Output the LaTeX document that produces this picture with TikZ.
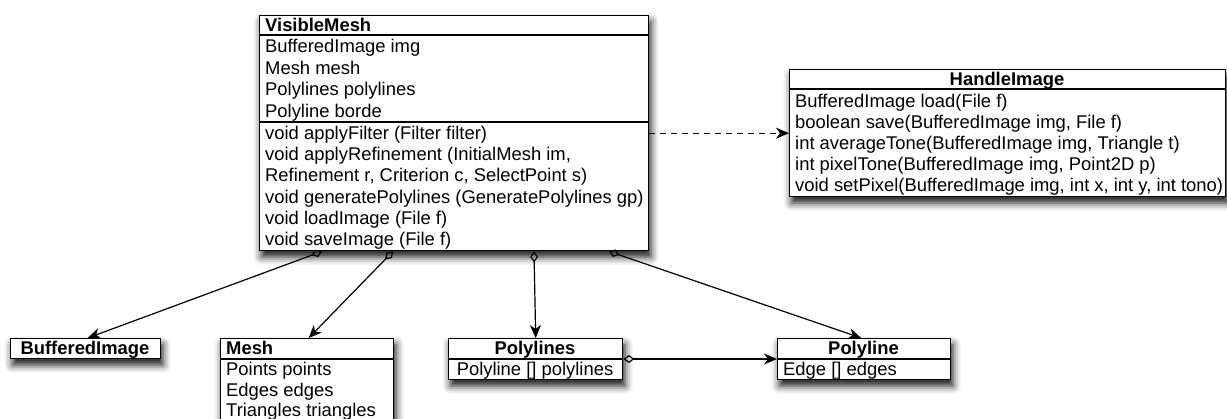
\documentclass[tikz,border=0pt]{standalone}
\usepackage{fontspec}
\setmainfont{Liberation Sans}
\usetikzlibrary{arrows.meta,shadows.blur}

\newcommand\umlfont{\fontsize{18.4}{21.5}\selectfont}
\newcommand\umlbold{\fontsize{18.4}{21.5}\selectfont\bfseries}

\tikzset{
  classbox/.style={draw=black, line width=1.4pt, fill=white, inner sep=0pt,
    anchor=north west,
    blur shadow={shadow xshift=2pt, shadow yshift=-6pt,
                 shadow blur radius=8pt, shadow opacity=95}},
  divider/.style={line width=1.4pt},
  member/.style={anchor=base west, inner sep=0pt, font=\umlfont},
  titleL/.style={anchor=base west, inner sep=0pt, font=\umlbold},
  titleC/.style={anchor=base, inner sep=0pt, font=\umlbold},
  memberC/.style={anchor=base, inner sep=0pt, font=\umlfont},
  assoc/.style={line width=1.2pt,
    {Diamond[open,length=11pt,width=8pt]}-{Stealth[length=13pt,width=11pt,inset=4pt]}},
  depend/.style={line width=1.2pt, dash pattern=on 6pt off 5pt,
    -{Stealth[length=13pt,width=11pt,inset=4pt]}}
}

\begin{document}
\begin{tikzpicture}[x=1pt,y=-1pt]
\useasboundingbox (0,0) rectangle (1227,419);

% ---------- VisibleMesh ----------
\node[classbox, minimum width=389pt, minimum height=235pt] (vm) at (259,15) {};
\draw[divider] ([yshift=-20pt]vm.north west) -- ([yshift=-20pt]vm.north east);
\draw[divider] ([yshift=-107pt]vm.north west) -- ([yshift=-107pt]vm.north east);
\node[titleL] (vmT) at (265,31.5) {VisibleMesh};
\node[member] (vmA1) at (265,52.5) {BufferedImage img};
\node[member] (vmA2) at (265,74.2) {Mesh mesh};
\node[member] (vmA3) at (265,96) {Polylines polylines};
\node[member] (vmA4) at (265,117.7) {Polyline borde};
\node[member] (vmM1) at (265,139.3) {void applyFilter (Filter filter)};
\node[member] (vmM2) at (265,160.6) {void applyRefinement (InitialMesh im,};
\node[member] (vmM3) at (265,181.9) {Refinement r, Criterion c, SelectPoint s)};
\node[member] (vmM4) at (265,203.3) {void generatePolylines (GeneratePolylines gp)};
\node[member] (vmM5) at (265,224.6) {void loadImage (File f)};
\node[member] (vmM6) at (265,245.9) {void saveImage (File f)};

% ---------- HandleImage ----------
\node[classbox, minimum width=436pt, minimum height=127pt] (hi) at (789,69) {};
\draw[divider] ([yshift=-20pt]hi.north west) -- ([yshift=-20pt]hi.north east);
\node[titleC] (hiT) at (1007,85.6) {HandleImage};
\node[member] (hiM1) at (795,107.5) {BufferedImage load(File f)};
\node[member] (hiM2) at (795,128.5) {boolean save(BufferedImage img, File f)};
\node[member] (hiM3) at (795,149.5) {int averageTone(BufferedImage img, Triangle t)};
\node[member] (hiM4) at (795,170.5) {int pixelTone(BufferedImage img, Point2D p)};
\node[member] (hiM5) at (795,191.5) {void setPixel(BufferedImage img, int x, int y, int tono)};

% ---------- BufferedImage ----------
\node[classbox, minimum width=150pt, minimum height=20pt] (bi) at (10,338) {};
\node[titleC] (biT) at (85,354.6) {BufferedImage};

% ---------- Mesh (runs past the lower edge) ----------
\node[classbox, minimum width=173pt, minimum height=88pt] (mesh) at (220,338) {};
\draw[divider] ([yshift=-21pt]mesh.north west) -- ([yshift=-21pt]mesh.north east);
\node[titleL] (meshT) at (226,354.6) {Mesh};
\node[member] (meshA1) at (226,375.6) {Points points};
\node[member] (meshA2) at (226,396.2) {Edges edges};
\node[member] (meshA3) at (226,416.2) {Triangles triangles};

% ---------- Polylines ----------
\node[classbox, minimum width=174pt, minimum height=41pt] (pls) at (448,338) {};
\draw[divider] ([yshift=-21pt]pls.north west) -- ([yshift=-21pt]pls.north east);
\node[titleC] (plsT) at (535,354.6) {Polylines};
\node[memberC] (plsA1) at (535,375.6) {Polyline [] polylines};

% ---------- Polyline ----------
\node[classbox, minimum width=173pt, minimum height=41pt] (pl) at (777,338) {};
\draw[divider] ([yshift=-21pt]pl.north west) -- ([yshift=-21pt]pl.north east);
\node[titleC] (plT) at (863.5,354.6) {Polyline};
\node[member] (plA1) at (783,375.6) {Edge [] edges};

% ---------- connectors ----------
\draw[assoc] ([xshift=63pt]vm.south west) -- ([xshift=2pt]bi.north);
\draw[assoc] ([xshift=134pt]vm.south west) -- ([xshift=1.5pt]mesh.north);
\draw[assoc] ([xshift=275pt]vm.south west) -- (pls.north);
\draw[assoc] ([xshift=350pt]vm.south west) -- ([xshift=-3pt]pl.north);
\draw[assoc] ([yshift=-21pt]pls.north east) -- ([yshift=-21pt]pl.north west);
\draw[depend] (vm.east |- hi.west) -- (hi.west);
\end{tikzpicture}
\end{document}
